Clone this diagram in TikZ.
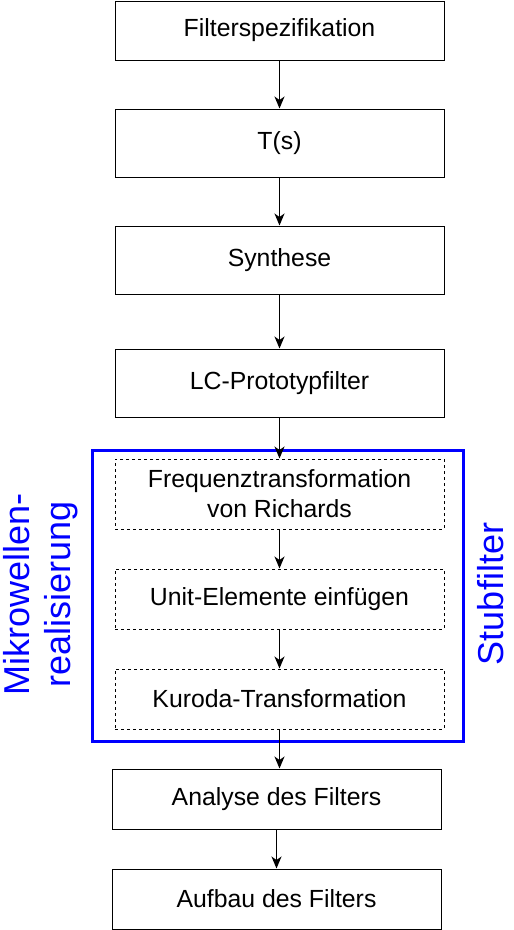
\documentclass[tikz,border=0pt]{standalone}
\usepackage{fontspec}
\setmainfont{Liberation Sans}
\usetikzlibrary{arrows.meta}
\definecolor{myblue}{RGB}{0,0,255}
\begin{document}
\begin{tikzpicture}[x=1pt,y=-1pt,
  box/.style={draw=black,line width=1pt,fill=white,minimum width=329pt,inner sep=0pt,align=center,font=\fontsize{24.8}{30}\selectfont},
  dbox/.style={box,dash pattern=on 3pt off 3pt},
  arr/.style={-{Stealth[length=12pt,width=10pt,inset=3.5pt]},line width=1.4pt},
  blabel/.style={text=myblue,font=\fontsize{36}{41}\selectfont,align=center,rotate=90}
]
\useasboundingbox (0,0) rectangle (514,930);
\node[box,minimum height=59pt] (f1) at (279.5,30.5) {Filterspezifikation};
\node[box,minimum height=68pt] (f2) at (279.5,143) {T(s)};
\node[box,minimum height=68pt] (f3) at (279.5,260) {Synthese};
\node[box,minimum height=68pt] (f4) at (279.5,383) {LC-Prototypfilter};
\draw[myblue,line width=3pt] (92,450) rectangle (463,741);
\node[dbox,minimum height=70pt] (f5) at (279.5,494) {Frequenztransformation\\von Richards};
\node[dbox,minimum height=60pt] (f6) at (279.5,599) {Unit-Elemente einfügen};
\node[dbox,minimum height=60pt] (f7) at (279.5,699) {Kuroda-Transformation};
\node[box,minimum height=60pt] (f8) at (276.5,799) {Analyse des Filters};
\node[box,minimum height=60pt] (f9) at (276.5,899) {Aufbau des Filters};
\node[blabel] (l1) at (41,594) {Mikrowellen-\\realisierung};
\node[blabel] (l2) at (491,594) {Stubfilter};
\draw[arr] (f1.south) -- (f2.north);
\draw[arr] (f2.south) -- (f3.north);
\draw[arr] (f3.south) -- (f4.north);
\draw[arr] (f4.south) -- (f5.north);
\draw[arr] (f5.south) -- (f6.north);
\draw[arr] (f6.south) -- (f7.north);
\draw[arr] (f7.south) -- (f7.south |- f8.north);
\draw[arr] (f8.south) -- (f9.north);
\end{tikzpicture}
\end{document}
